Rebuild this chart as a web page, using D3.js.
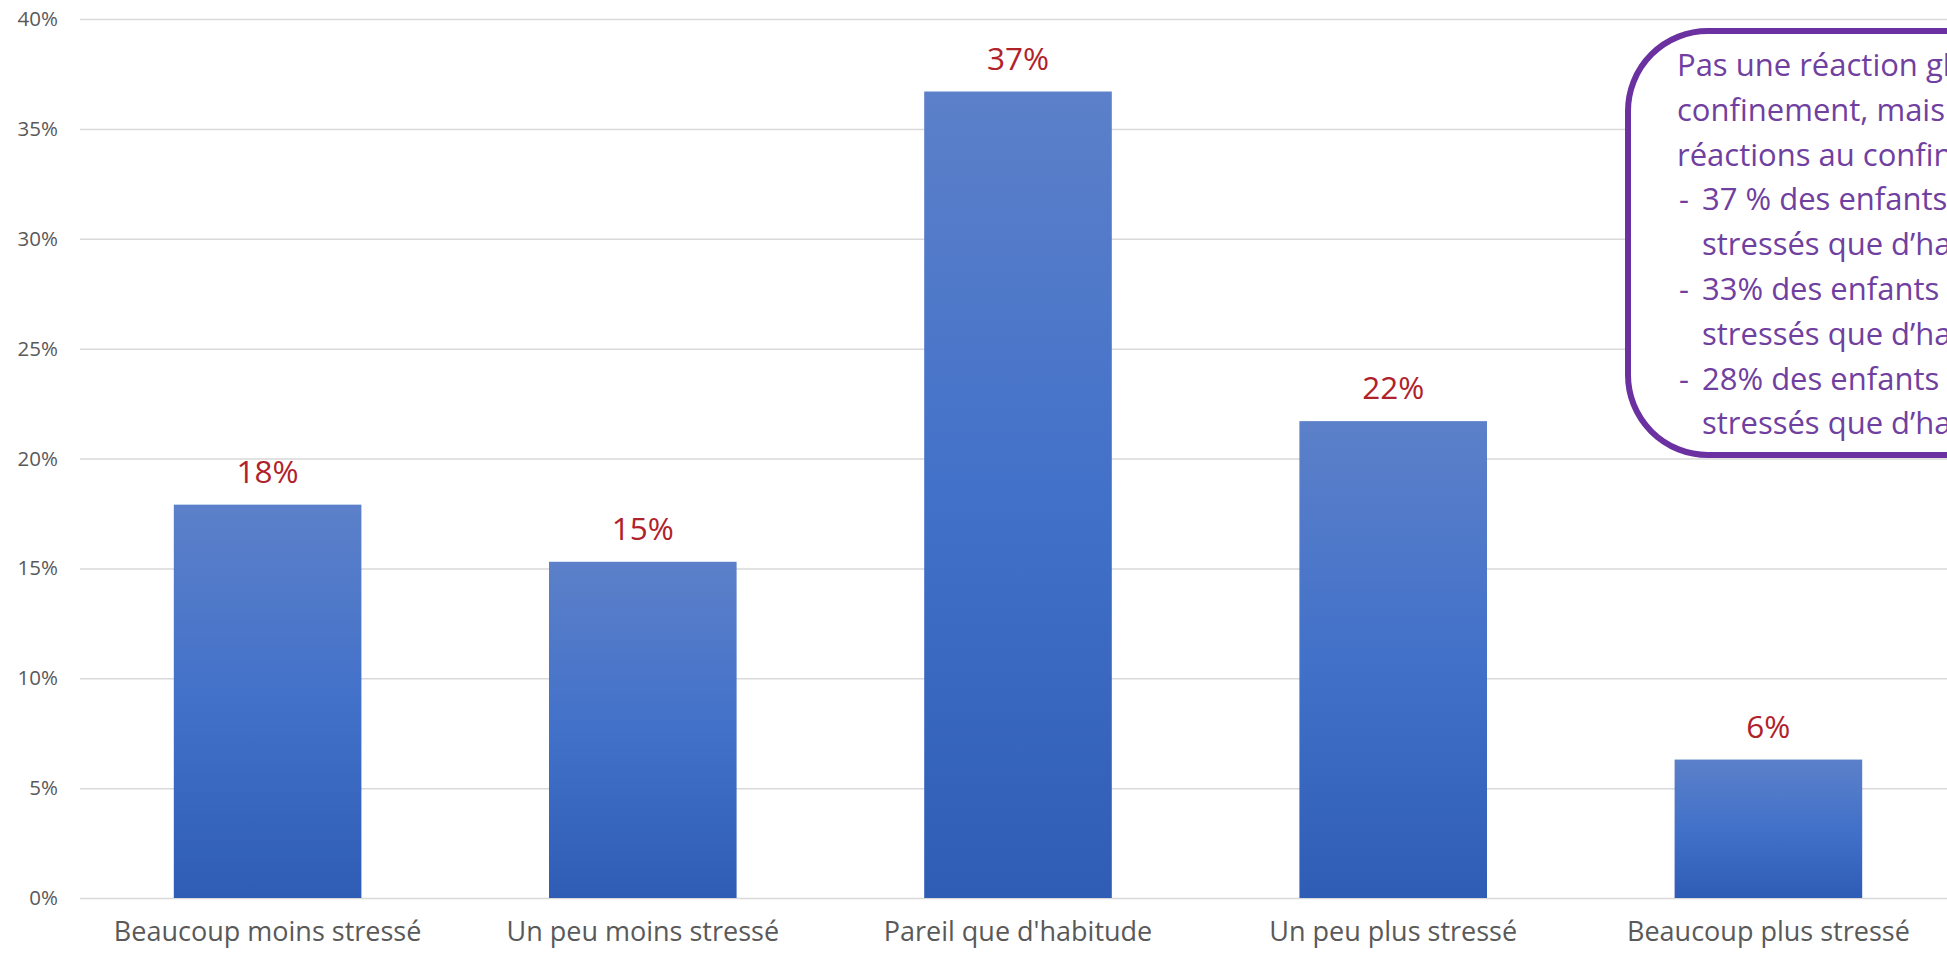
<!DOCTYPE html>
<html>
<head>
<meta charset="utf-8">
<script src="https://cdn.jsdelivr.net/npm/d3@7"></script>
<style>
  html, body { margin: 0; padding: 0; background: #ffffff; overflow: hidden; }
  svg { display: block; }
</style>
</head>
<body>
<svg id="chart" width="1947" height="956"></svg>
<script>
// ---- data ----
const categories = ["Beaucoup moins stressé", "Un peu moins stressé", "Pareil que d'habitude", "Un peu plus stressé", "Beaucoup plus stressé"];
const values = [0.179, 0.153, 0.367, 0.217, 0.063];
const valueLabels = ["18%", "15%", "37%", "22%", "6%"];
const yTicks = [0, 0.05, 0.10, 0.15, 0.20, 0.25, 0.30, 0.35, 0.40];
const noteLines = [
  { text: "Pas une réaction globale au", bullet: false },
  { text: "confinement, mais différentes", bullet: false },
  { text: "réactions au confinement :", bullet: false },
  { text: "37 % des enfants ni plus ni moins", bullet: true },
  { text: "stressés que d’habitude", bullet: false, indent: true },
  { text: "33% des enfants moins", bullet: true },
  { text: "stressés que d’habitude", bullet: false, indent: true },
  { text: "28% des enfants plus", bullet: true },
  { text: "stressés que d’habitude", bullet: false, indent: true }
];

// ---- layout ----
const W = 1947, H = 956;
const svg = d3.select("#chart");
const font = "'Open Sans', 'Noto Sans', sans-serif";

const x = d3.scaleBand().domain(categories).range([80, 1956]).paddingInner(0.5).paddingOuter(0.25);
const y = d3.scaleLinear().domain([0, 0.40]).range([898, 19]);

// gradient
const defs = svg.append("defs");
const grad = defs.append("linearGradient").attr("id", "barGrad")
  .attr("x1", 0).attr("y1", 0).attr("x2", 0).attr("y2", 1);
grad.append("stop").attr("offset", "0%").attr("stop-color", "#5C80C9");
grad.append("stop").attr("offset", "50%").attr("stop-color", "#4271C9");
grad.append("stop").attr("offset", "100%").attr("stop-color", "#2F5DB5");

// gridlines via axis
const grid = svg.append("g")
  .attr("transform", "translate(80,0)")
  .call(d3.axisLeft(y).tickValues(yTicks).tickSize(-(W - 80)).tickFormat(""));
grid.select(".domain").remove();
grid.selectAll(".tick line").attr("stroke", "#D9D9D9").attr("stroke-width", 1.5);

// y tick labels
const yAxis = svg.append("g")
  .attr("transform", "translate(58,0)")
  .call(d3.axisLeft(y).tickValues(yTicks).tickSize(0).tickPadding(0).tickFormat(d3.format(".0%")));
yAxis.select(".domain").remove();
yAxis.selectAll("text")
  .attr("font-family", font).attr("font-size", 20.5).attr("fill", "#595959");

// bars
svg.append("g").selectAll("rect")
  .data(values)
  .join("rect")
  .attr("x", (d, i) => x(categories[i]))
  .attr("y", d => y(d))
  .attr("width", x.bandwidth())
  .attr("height", d => y(0) - y(d))
  .attr("fill", "url(#barGrad)");

// value labels
svg.append("g").selectAll("text")
  .data(values)
  .join("text")
  .attr("x", (d, i) => x(categories[i]) + x.bandwidth() / 2)
  .attr("y", d => y(d) - 22)
  .attr("text-anchor", "middle")
  .attr("font-family", font).attr("font-size", 31.5)
  .attr("fill", "#B0222A")
  .text((d, i) => valueLabels[i]);

// category axis
const xAxis = svg.append("g")
  .attr("transform", `translate(0,${y(0)})`)
  .call(d3.axisBottom(x).tickSize(0).tickPadding(24));
xAxis.select(".domain").remove();
xAxis.selectAll("text")
  .attr("font-family", font).attr("font-size", 27).attr("fill", "#595959")
  .attr("dy", "0.71em");

// annotation box
const box = svg.append("g");
box.append("rect")
  .attr("x", 1628).attr("y", 31)
  .attr("width", 500).attr("height", 424)
  .attr("rx", 80).attr("ry", 80)
  .attr("fill", "#ffffff")
  .attr("stroke", "#6B31A0").attr("stroke-width", 6);

const lineH = 44.8;
noteLines.forEach((l, i) => {
  const yy = 76 + i * lineH;
  if (l.bullet) {
    box.append("text").attr("x", 1679).attr("y", yy)
      .attr("font-family", font).attr("font-size", 31).attr("fill", "#7040A0")
      .text("-");
  }
  box.append("text")
    .attr("x", (l.bullet || l.indent) ? 1702 : 1677)
    .attr("y", yy)
    .attr("font-family", font).attr("font-size", 31).attr("fill", "#7040A0")
    .text(l.text);
});
</script>
</body>
</html>
